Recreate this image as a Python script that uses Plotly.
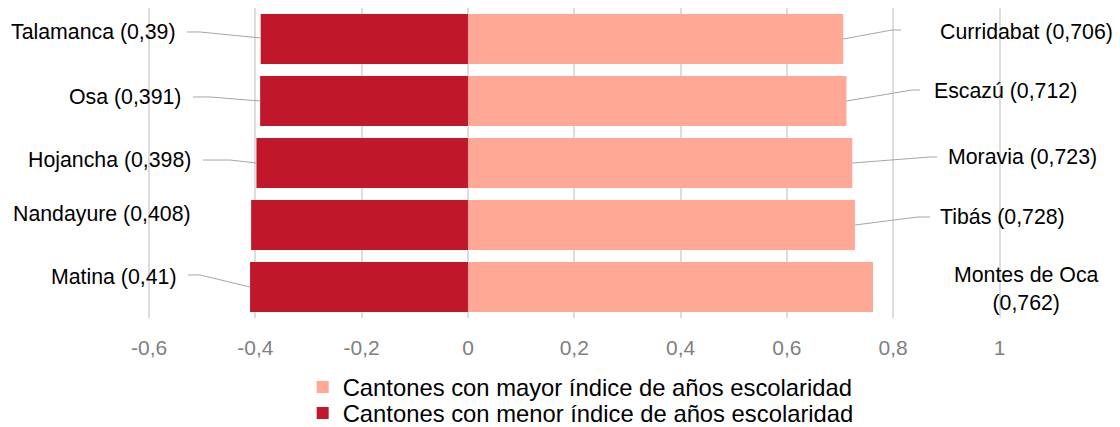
import plotly.graph_objects as go

# ---- data ----
low_names = ["Talamanca", "Osa", "Hojancha", "Nandayure", "Matina"]
low_values = [0.39, 0.391, 0.398, 0.408, 0.41]
high_names = ["Curridabat", "Escazú", "Moravia", "Tibás", "Montes de Oca"]
high_values = [0.706, 0.712, 0.723, 0.728, 0.762]
tick_values = [-0.6, -0.4, -0.2, 0, 0.2, 0.4, 0.6, 0.8, 1]
tick_labels = ["-0,6", "-0,4", "-0,2", "0", "0,2", "0,4", "0,6", "0,8", "1"]
legend_high = "Cantones con mayor índice de años escolaridad"
legend_low = "Cantones con menor índice de años escolaridad"

# ---- styles / label layout ----
DARK = "#C1172B"
LIGHT = "#FFA896"
FONT = "Liberation Sans, Arial, sans-serif"
LABEL_SIZE = 21.3
rows = list(range(len(low_names)))

# left labels: (text right edge x, text y); leader: (start x, elbow x, y, end dy); None = no leader
left_text = [(-0.5456, -0.113), (-0.5362, 0.935), (-0.5174, 1.952), (-0.5174, 2.823), (-0.5456, 3.839)]
left_lead = [(-0.5287, -0.5042, -0.113, -0.016), (-0.5174, -0.4854, 0.935, 0.0),
             (-0.4986, -0.4478, 1.952, 0.0), None, (-0.5268, -0.5042, 3.806, 0.0)]
right_text = [(0.8843, -0.113), (0.8730, 0.839), (0.8993, 1.903), (0.8843, 2.871), (1.0499, 4.032)]
right_lead = [(0.8147, 0.7977, -0.145, 0.0), (0.8504, 0.8354, 0.823, 0.0),
              (0.8824, 0.8692, 1.903, 0.0), (0.8692, 0.8467, 2.871, 0.0), None]


def fmt(v):
    return str(v).replace(".", ",")


fig = go.Figure()
fig.add_trace(go.Bar(
    y=rows, x=high_values, orientation="h", name=legend_high, legend="legend",
    marker=dict(color=LIGHT, line=dict(width=0)), width=0.806,
))
fig.add_trace(go.Bar(
    y=rows, x=[-v for v in low_values], orientation="h", name=legend_low, legend="legend2",
    marker=dict(color=DARK, line=dict(width=0)), width=0.806,
))

# leader lines
for i, ld in enumerate(left_lead):
    if ld is None:
        continue
    sx, ex, ty, dy = ld
    fig.add_trace(go.Scatter(
        x=[sx, ex, -low_values[i]], y=[ty, ty, rows[i] + dy], mode="lines",
        line=dict(color="#A6A6A6", width=1), showlegend=False, hoverinfo="skip"))
for i, ld in enumerate(right_lead):
    if ld is None:
        continue
    sx, ex, ty, dy = ld
    fig.add_trace(go.Scatter(
        x=[sx, ex, high_values[i]], y=[ty, ty, rows[i] + dy], mode="lines",
        line=dict(color="#A6A6A6", width=1), showlegend=False, hoverinfo="skip"))

annotations = []
for i, (n, v) in enumerate(zip(low_names, low_values)):
    tx, ty = left_text[i]
    annotations.append(dict(x=tx, y=ty, xref="x", yref="y", text=f"{n} ({fmt(v)})",
                            showarrow=False, xanchor="right", yanchor="middle",
                            font=dict(family=FONT, size=LABEL_SIZE, color="#000000")))
for i, (n, v) in enumerate(zip(high_names, high_values)):
    tx, ty = right_text[i]
    if n == "Montes de Oca":
        annotations.append(dict(x=tx, y=ty, xref="x", yref="y", text=f"{n}<br>({fmt(v)})",
                                showarrow=False, xanchor="center", yanchor="middle", align="center",
                                font=dict(family=FONT, size=LABEL_SIZE, color="#000000")))
    else:
        annotations.append(dict(x=tx, y=ty, xref="x", yref="y", text=f"{n} ({fmt(v)})",
                                showarrow=False, xanchor="left", yanchor="middle",
                                font=dict(family=FONT, size=LABEL_SIZE, color="#000000")))

legend_style = dict(orientation="v", xanchor="left", yanchor="middle",
                    font=dict(family=FONT, size=23.8, color="#000000"),
                    bgcolor="rgba(0,0,0,0)", borderwidth=0)

# page body has an 8px margin, so the figure is 8px smaller and offset
fig.update_layout(
    width=1112, height=419,
    margin=dict(l=0, r=0, t=0, b=109, autoexpand=False),
    barmode="relative",
    plot_bgcolor="white", paper_bgcolor="white",
    font=dict(family=FONT),
    annotations=annotations,
    legend=dict(x=0.265, y=-0.2226, **legend_style),
    legend2=dict(x=0.265, y=-0.3064, **legend_style),
    xaxis=dict(range=[-0.8654, 1.2267], tickvals=tick_values, ticktext=tick_labels,
               showgrid=True, gridcolor="#DDDDDD", gridwidth=2, zeroline=False,
               showline=False, ticks="", ticklabelstandoff=15,
               tickfont=dict(family=FONT, size=21, color="#7F7F7F")),
    yaxis=dict(range=[4.5, -0.5], showticklabels=False, showgrid=False,
               zeroline=False, showline=False),
)

fig.write_html("out.html")
